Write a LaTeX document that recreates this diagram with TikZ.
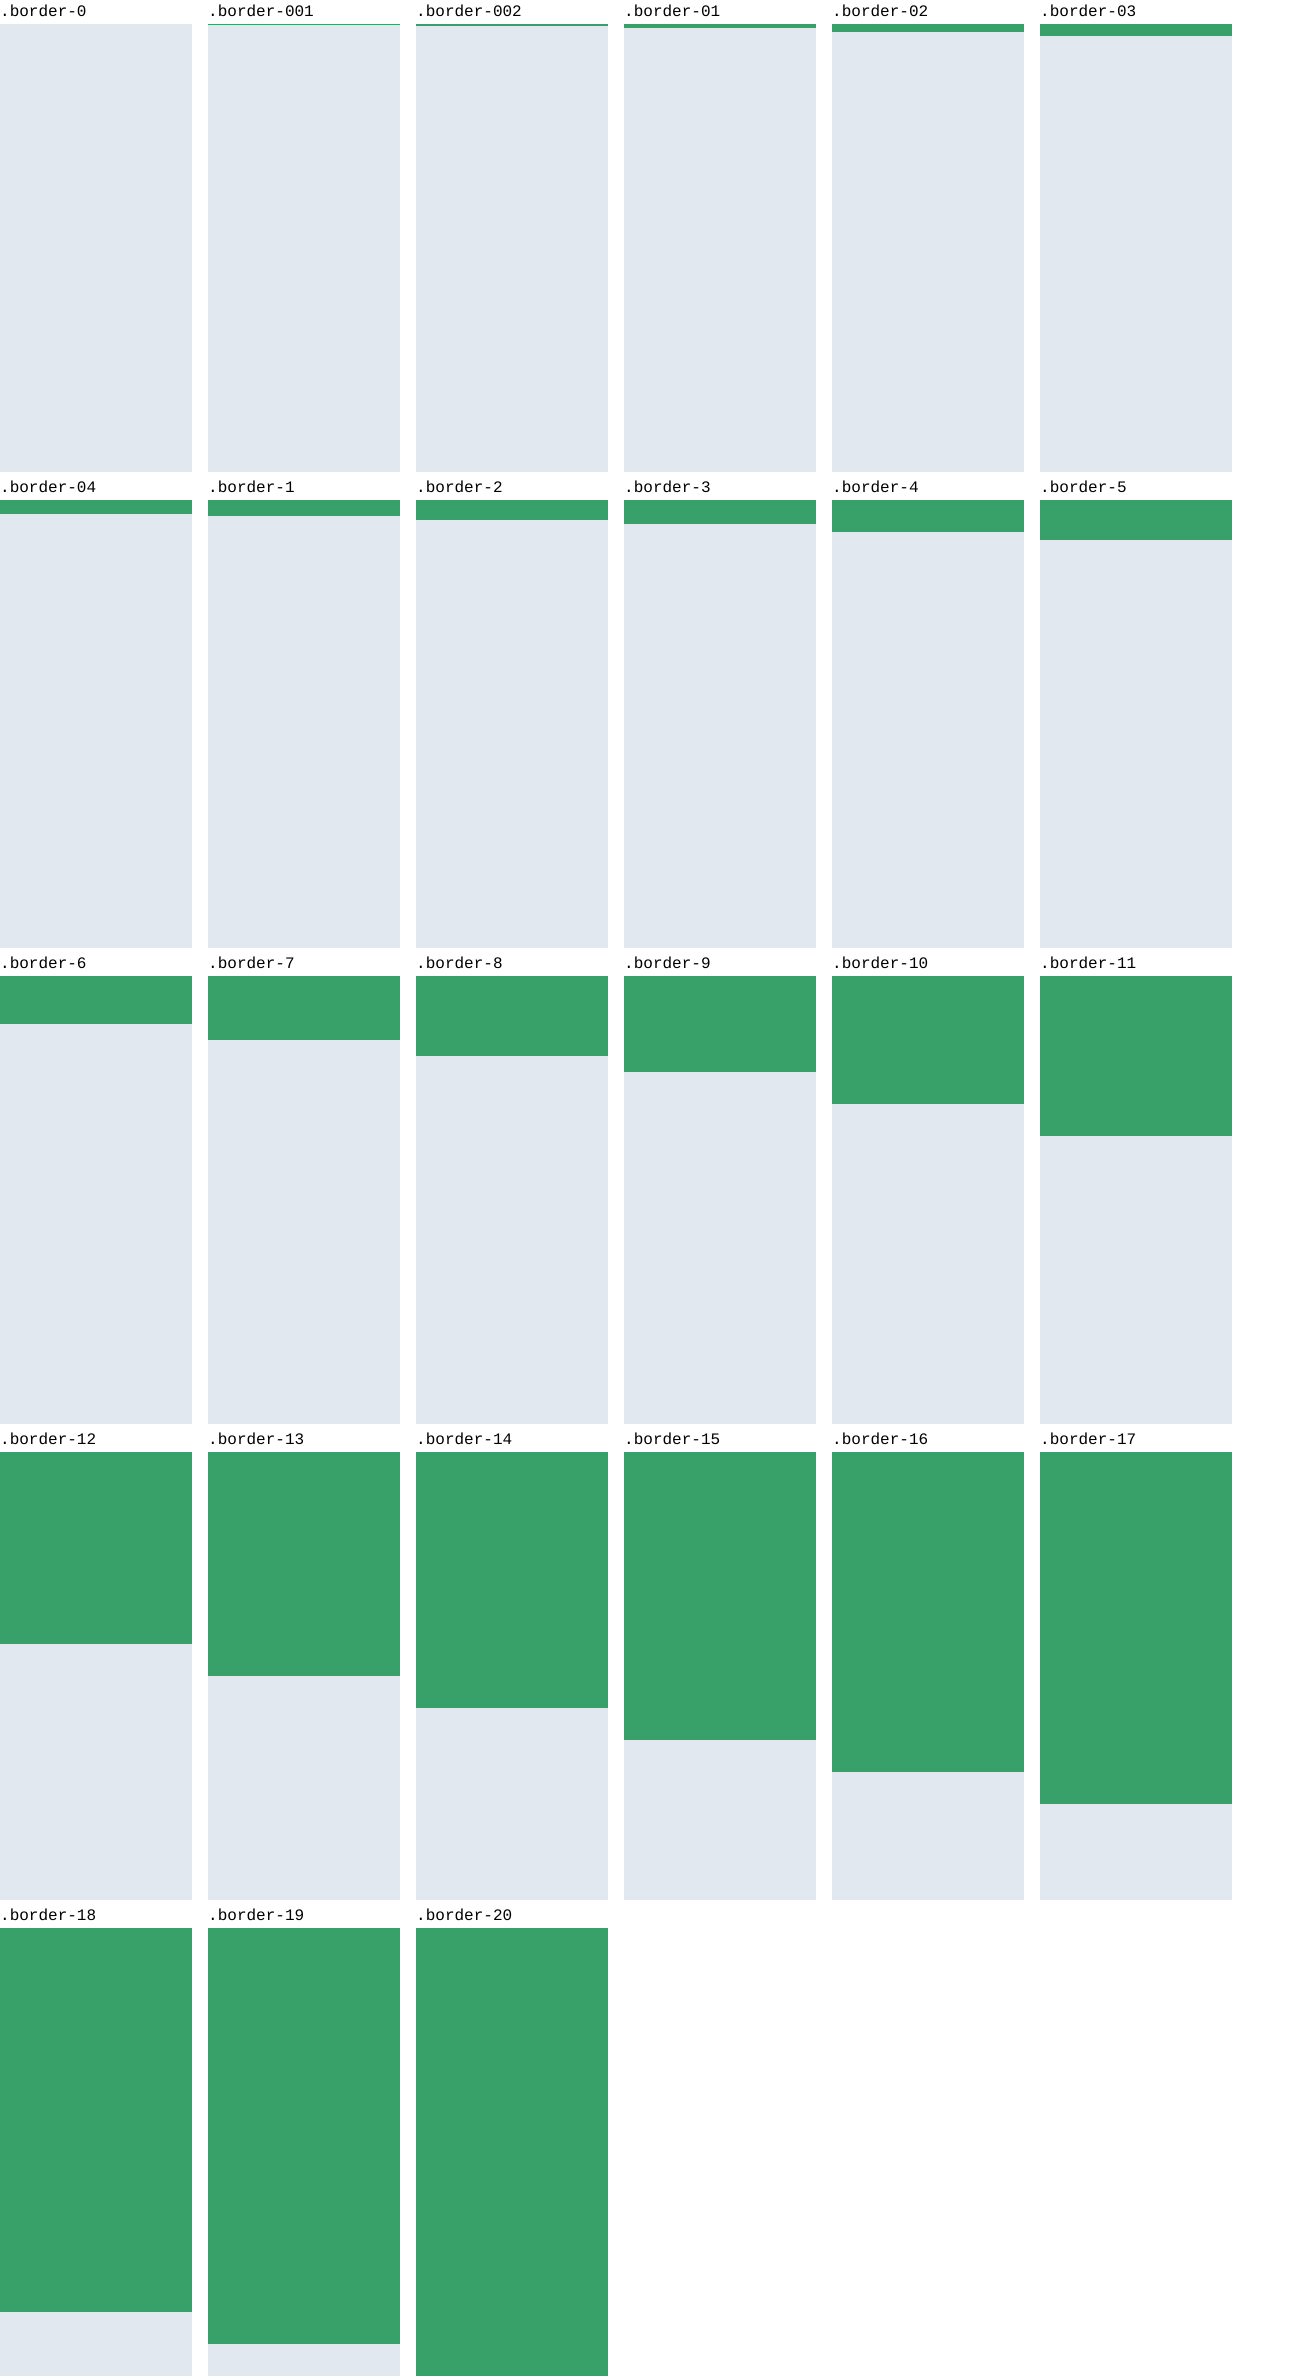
\documentclass[tikz,border=0pt]{standalone}
\usepackage{fontspec}
\setmonofont{Liberation Mono}
\usepackage{xcolor}
\definecolor{band}{HTML}{38A169}
\definecolor{panelbg}{HTML}{E2E8F0}

\begin{document}
\begin{tikzpicture}[x=1pt,y=-1pt,
      panel/.style={fill=panelbg,inner sep=0pt,outer sep=0pt,
                    minimum width=192pt,minimum height=448pt,anchor=north west},
      bar/.style={fill=band,inner sep=0pt,outer sep=0pt,
                  minimum width=192pt,anchor=north west},
      lbl/.style={font=\ttfamily\fontsize{16}{19}\selectfont,
                  inner sep=0pt,anchor=base west}]

    \useasboundingbox (0,0) rectangle (1296,2380);

    % one panel per class: label, grey box, green top band
    \foreach \name/\h [count=\i from 0] in {0/0,001/1,002/2,01/4,02/8,03/12,
        04/14,1/16,2/20,3/24,4/32,5/40,
        6/48,7/64,8/80,9/96,10/128,11/160,
        12/192,13/224,14/256,15/288,16/320,17/352,
        18/384,19/416,20/448}{
      \pgfmathtruncatemacro{\col}{mod(\i,6)}
      \pgfmathtruncatemacro{\row}{floor(\i/6)}
      \node[panel] (p\i) at (\col*208,24+\row*476) {};
      \node[lbl] (l\i) at (\col*208,16+\row*476) {.border-\name};
      \ifnum\h>0
        \node[bar,minimum height=\h pt] (b\i) at (p\i.north west) {};
      \fi
    }
  \end{tikzpicture}
\end{document}
